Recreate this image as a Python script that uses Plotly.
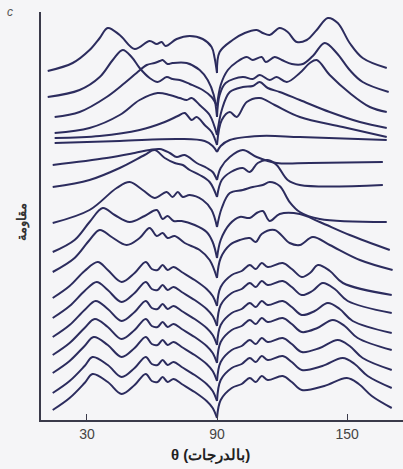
import plotly.graph_objects as go

# angle (degrees) and resistance (arbitrary units, stacked) for each trace, top to bottom
theta_1 = [11.9, 23.4, 31.2, 35.9, 39.6, 45.1, 52.0, 58.9, 62.2, 64.5, 66.3, 71.4, 77.4, 83.4, 87.5, 88.9, 90.0, 91.2, 97.2, 102.8, 108.3, 111.1, 114.3, 118.9, 122.6, 126.8, 131.4, 136.0, 141.1, 145.7, 151.2, 157.2, 168.3]
r_1 = [349, 357, 370, 382, 392, 385, 371, 379, 376, 378, 374, 381, 384, 381, 373, 362, 347, 368, 380, 387, 390, 387, 385, 392, 388, 378, 380, 390, 402, 397, 377, 362, 352]

theta_2 = [11.9, 26.6, 35.9, 41.9, 46.5, 50.6, 54.3, 58.9, 62.6, 66.8, 69.5, 72.8, 77.4, 83.4, 87.5, 90.0, 91.7, 95.0, 99.1, 103.7, 106.5, 110.6, 112.5, 116.6, 119.9, 124.5, 129.6, 134.2, 139.7, 145.2, 151.2, 157.2, 169.2]
r_2 = [323, 330, 343, 360, 370, 363, 352, 342, 338, 343, 341, 340, 336, 330, 323, 314, 335, 350, 358, 363, 360, 363, 358, 363, 360, 356, 356, 364, 377, 367, 350, 338, 328]

theta_3 = [15.1, 26.6, 39.1, 47.4, 52.9, 57.6, 61.2, 63.6, 64.9, 67.2, 69.5, 76.0, 82.0, 85.7, 88.5, 90.0, 91.2, 94.0, 101.9, 106.5, 109.7, 114.3, 117.5, 122.2, 128.2, 132.8, 136.0, 142.0, 151.2, 160.5, 168.3]
r_3 = [303, 308, 323, 337, 347, 355, 357, 359, 360, 356, 357, 357, 350, 340, 325, 303, 325, 337, 343, 341, 345, 340, 343, 338, 347, 357, 360, 345, 327, 313, 308]

theta_4 = [15.1, 31.2, 45.1, 54.3, 62.6, 68.2, 72.8, 76.0, 78.3, 82.0, 86.6, 90.0, 92.2, 95.9, 101.9, 106.5, 109.7, 113.4, 118.9, 128.2, 142.0, 155.9, 168.3]
r_4 = [287, 292, 305, 320, 327, 325, 322, 320, 322, 315, 305, 285, 310, 328, 333, 334, 338, 332, 328, 320, 308, 298, 292]

theta_5 = [15.1, 35.9, 54.3, 65.9, 71.9, 75.1, 78.3, 80.6, 84.3, 87.5, 90.0, 92.2, 95.9, 99.1, 103.7, 109.7, 116.6, 128.2, 148.0, 168.3]
r_5 = [282, 284, 290, 298, 304, 307, 300, 303, 295, 288, 275, 300, 308, 303, 318, 322, 315, 303, 293, 283]

theta_6 = [15.1, 45.1, 72.8, 84.3, 88.0, 90.0, 91.7, 95.9, 109.7, 128.2, 168.3]
r_6 = [277, 279, 281, 279, 274, 268, 274, 280, 284, 283, 280]

theta_7 = [14.2, 39.1, 52.0, 58.9, 63.6, 68.2, 71.4, 75.1, 80.6, 85.3, 88.0, 90.0, 91.7, 95.9, 101.9, 108.3, 117.5, 132.8, 166.5]
r_7 = [255, 262, 267, 270, 271, 267, 263, 265, 257, 252, 248, 240, 252, 263, 270, 263, 257, 257, 258]

theta_8 = [14.2, 31.2, 45.1, 56.6, 61.2, 65.9, 70.5, 74.2, 77.4, 82.0, 86.6, 90.0, 92.2, 96.4, 101.9, 105.1, 108.8, 113.4, 117.5, 122.6, 128.2, 166.5]
r_8 = [233, 240, 252, 265, 270, 262, 257, 255, 250, 245, 238, 223, 240, 248, 252, 248, 257, 260, 255, 240, 235, 235]

theta_9 = [14.2, 31.2, 43.7, 49.7, 55.7, 61.2, 66.8, 69.5, 71.9, 74.2, 77.4, 83.4, 87.5, 90.0, 92.2, 95.9, 101.9, 106.5, 111.1, 114.3, 118.9, 123.5, 128.2, 137.4, 168.3]
r_9 = [197, 210, 232, 238, 230, 222, 228, 223, 228, 223, 225, 220, 210, 193, 212, 227, 230, 233, 235, 238, 234, 218, 208, 201, 198]

theta_10 = [14.2, 24.3, 31.2, 37.3, 42.8, 49.7, 56.6, 62.2, 64.9, 67.2, 70.0, 73.7, 79.7, 85.2, 88.0, 90.0, 91.7, 95.9, 100.5, 105.1, 108.3, 111.1, 114.3, 118.9, 128.2, 137.4, 151.2, 169.7]
r_10 = [168, 180, 198, 212, 205, 198, 204, 210, 201, 204, 199, 199, 195, 188, 178, 162, 180, 196, 203, 202, 207, 209, 199, 206, 206, 198, 185, 170]

theta_11 = [14.2, 24.3, 31.2, 35.9, 41.4, 48.3, 54.3, 58.9, 62.2, 64.9, 67.2, 70.5, 75.1, 82.0, 86.6, 90.0, 91.7, 95.9, 100.5, 105.1, 107.9, 110.6, 116.6, 123.5, 128.2, 134.2, 142.0, 155.9, 171.0]
r_11 = [148, 162, 180, 190, 183, 175, 182, 192, 184, 187, 182, 184, 177, 170, 160, 142, 162, 175, 180, 182, 178, 186, 190, 177, 175, 183, 175, 160, 150]

theta_12 = [14.2, 22.0, 28.9, 35.0, 39.6, 46.0, 52.0, 57.1, 59.9, 62.6, 64.9, 67.2, 70.0, 73.7, 79.7, 85.2, 88.0, 90.0, 91.7, 96.8, 101.4, 105.1, 107.9, 110.6, 113.4, 120.3, 124.5, 129.1, 132.9, 136.6, 142.1, 148.1, 170.6]
r_12 = [122, 134, 149, 158, 150, 138, 147, 158, 151, 150, 155, 150, 153, 148, 140, 131, 124, 114, 133, 145, 149, 155, 151, 157, 153, 157, 151, 143, 147, 155, 149, 137, 125]

theta_13 = [14.2, 22.0, 28.9, 34.5, 39.6, 46.0, 52.0, 57.1, 59.9, 62.6, 64.9, 67.2, 70.0, 73.7, 79.7, 85.2, 88.0, 90.0, 91.7, 96.8, 101.4, 105.1, 107.9, 110.6, 113.4, 120.3, 124.5, 129.1, 134.0, 138.8, 144.3, 150.3, 170.6]
r_13 = [102, 114, 129, 138, 130, 118, 127, 138, 131, 130, 135, 130, 133, 128, 120, 111, 104, 94, 115, 127, 131, 137, 133, 139, 135, 139, 133, 125, 129, 137, 131, 119, 107]

theta_14 = [14.2, 22.0, 28.9, 34.0, 39.6, 46.0, 52.0, 57.1, 59.9, 62.6, 64.9, 67.2, 70.0, 73.7, 79.7, 85.2, 88.0, 90.0, 91.7, 96.8, 101.4, 105.1, 107.9, 110.6, 113.4, 120.3, 124.5, 129.1, 135.1, 141.1, 146.6, 152.6, 170.6]
r_14 = [83, 95, 110, 119, 111, 99, 108, 119, 112, 111, 116, 111, 114, 109, 101, 92, 85, 75, 95, 107, 111, 117, 113, 119, 115, 119, 113, 105, 109, 117, 111, 99, 87]

theta_15 = [14.2, 22.0, 28.9, 33.6, 39.6, 46.0, 52.0, 57.1, 59.9, 62.6, 64.9, 67.2, 70.0, 73.7, 79.7, 85.2, 88.0, 90.0, 91.7, 96.8, 101.4, 105.1, 107.9, 110.6, 113.4, 120.3, 124.5, 129.1, 136.3, 143.4, 148.9, 154.9, 170.6]
r_15 = [65, 77, 92, 101, 93, 81, 90, 101, 94, 93, 98, 93, 96, 91, 83, 74, 67, 57, 78, 90, 94, 100, 96, 102, 98, 102, 96, 88, 92, 100, 94, 82, 70]

theta_16 = [14.2, 22.0, 28.9, 33.1, 39.6, 46.0, 52.0, 57.1, 59.9, 62.6, 64.9, 67.2, 70.0, 73.7, 79.7, 85.2, 88.0, 90.0, 91.7, 96.8, 101.4, 105.1, 107.9, 110.6, 113.4, 120.3, 124.5, 129.1, 137.4, 145.7, 151.2, 157.2, 170.6]
r_16 = [47, 59, 74, 83, 75, 63, 72, 83, 76, 75, 80, 75, 78, 73, 65, 56, 49, 39, 58, 70, 74, 80, 76, 82, 78, 82, 76, 68, 72, 80, 74, 62, 50]

theta_17 = [14.2, 22.0, 28.9, 32.6, 39.6, 46.0, 52.0, 57.1, 59.9, 62.6, 64.9, 67.2, 70.0, 73.7, 79.7, 85.2, 88.0, 90.0, 91.7, 96.8, 101.4, 105.1, 107.9, 110.6, 113.4, 120.3, 124.5, 129.1, 138.6, 148.0, 153.5, 159.5, 170.6]
r_17 = [27, 39, 54, 63, 55, 43, 52, 63, 56, 55, 60, 55, 58, 53, 45, 36, 29, 19, 40, 52, 56, 62, 58, 64, 60, 64, 58, 50, 54, 62, 56, 44, 32]

theta_18 = [14.2, 22.0, 28.9, 32.6, 39.6, 46.0, 52.0, 57.1, 59.9, 62.6, 64.9, 67.2, 70.0, 73.7, 79.7, 85.2, 88.0, 90.0, 91.7, 96.8, 101.4, 105.1, 107.9, 110.6, 113.4, 120.3, 124.5, 129.1, 139.5, 149.9, 155.4, 161.4, 170.6]
r_18 = [10, 22, 37, 46, 38, 26, 35, 46, 39, 38, 43, 38, 41, 36, 28, 19, 12, 2, 20, 32, 36, 42, 38, 44, 40, 44, 38, 30, 34, 42, 36, 24, 12]

x_tick_values = [30, 90, 150]
x_tick_labels = ["30", "90", "150"]
x_title = "θ (بالدرجات)"
y_title = "مقاومة"
panel_label = "c"

series = [
    (theta_1, r_1), (theta_2, r_2), (theta_3, r_3), (theta_4, r_4), (theta_5, r_5),
    (theta_6, r_6), (theta_7, r_7), (theta_8, r_8), (theta_9, r_9), (theta_10, r_10),
    (theta_11, r_11), (theta_12, r_12), (theta_13, r_13), (theta_14, r_14), (theta_15, r_15),
    (theta_16, r_16), (theta_17, r_17), (theta_18, r_18),
]

line_color = "#2c2c5e"
cusp_angle = 90.0

fig = go.Figure()
for th, r in series:
    # draw each curve as two smooth branches meeting at the sharp cusp at 90 degrees
    k = th.index(cusp_angle)
    for xs, ys in ((th[:k + 1], r[:k + 1]), (th[k:], r[k:])):
        fig.add_trace(go.Scatter(
            x=xs, y=ys, mode="lines",
            line=dict(color=line_color, width=2, shape="spline", smoothing=1.0),
            hoverinfo="skip", showlegend=False,
        ))

fig.update_layout(
    width=403, height=469,
    margin=dict(l=41, r=0, t=12, b=49),
    paper_bgcolor="#f5f5f7", plot_bgcolor="#f5f5f7",
    font=dict(family="Liberation Sans, Arial, sans-serif", color="#333333"),
    xaxis=dict(
        range=[8.8, 175.8], showgrid=False, zeroline=False,
        showline=True, linecolor="#3a3a4a", linewidth=1.5,
        tickmode="array", tickvals=x_tick_values, ticktext=x_tick_labels,
        ticks="inside", ticklen=6, tickcolor="#3a3a4a",
        tickfont=dict(size=14, color="#444444"),
    ),
    yaxis=dict(
        range=[0, 408], showgrid=False, zeroline=False,
        showline=True, linecolor="#3a3a4a", linewidth=1.5,
        showticklabels=False, ticks="",
    ),
    annotations=[
        dict(text="<b>" + x_title + "</b>", x=0.467, y=-0.085, xref="paper", yref="paper",
             xanchor="center", yanchor="middle",
             showarrow=False, font=dict(size=15, color="#222222")),
        dict(text="<b>" + y_title + "</b>", x=-0.052, y=0.485, xref="paper", yref="paper",
             xanchor="center", yanchor="middle",
             textangle=-90, showarrow=False, font=dict(size=13, color="#333333")),
        dict(text="<i>" + panel_label + "</i>", x=-0.085, y=1.0, xref="paper", yref="paper",
             xanchor="center", yanchor="middle",
             showarrow=False, font=dict(size=12, color="#555555")),
    ],
)

fig.write_html("out.html", config={"displayModeBar": False},
               post_script="document.body.style.margin='0px';document.body.style.overflow='hidden';")
